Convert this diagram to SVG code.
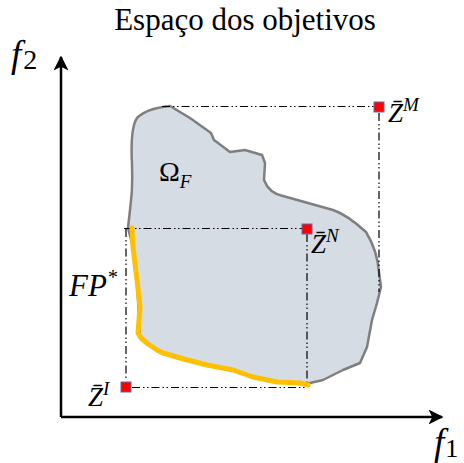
<svg xmlns="http://www.w3.org/2000/svg" width="464" height="463" viewBox="0 0 464 463">
<defs>
<style>
.ax{stroke:#000;stroke-width:2.5;fill:none}
.dd{stroke:#000;stroke-width:1.2;fill:none;stroke-dasharray:8 3 1.5 2.5 1.5 3}
.pt{fill:#ff0000;stroke:#5a6ea8;stroke-width:1}
.m{font-family:"Liberation Serif",serif;font-style:italic;fill:#000}
.t{font-family:"Liberation Serif",serif;fill:#000}
</style>
<marker id="ah" viewBox="0 0 10 10" refX="9" refY="5" markerWidth="6" markerHeight="6" markerUnits="strokeWidth" orient="auto">
<path d="M0,0 L10,5 L0,10 L2.5,5 Z" fill="#000"/>
</marker>
</defs>
<rect width="464" height="463" fill="#fff"/>
<text class="t" x="245" y="30" font-size="31" text-anchor="middle">Espaço dos objetivos</text>
<g id="axes">
<path class="ax" d="M61,417 L61,57" marker-end="url(#ah)"/>
<path class="ax" d="M61,417 L442,417" marker-end="url(#ah)"/>
<text class="m" x="11" y="67" font-size="37">f<tspan font-style="normal" font-size="28" dx="2" dy="2">2</tspan></text>
<text class="m" x="434" y="455" font-size="37">f<tspan font-style="normal" font-size="26" dx="1" dy="2">1</tspan></text>
</g>
<g id="regiao">
<path d="M128,228 C131,200 133,190 132,165 C131,145 132,125 137,118 C145,110 160,107 170,106 L190,118 L211,133 L214,140 L230,152 L245,150 L262,155 L265,163 L264,180 C267,188 273,194 283,196 L333,210 C345,214 355,222 366,232 C374,245 378,260 379,272 L381,287 L377,303 L372,320 L367,347 L360,363 L343,370 L323,380 L310,383 L300,384 L277,382 L253,377 L233,370 L207,365 L180,358 L163,353 L148,344 L140,338 L139,320 L137,280 L133,247 Z" fill="#d6dce4" stroke="#7f7f7f" stroke-width="2.5" stroke-linejoin="round"/>
<text class="m" x="159" y="181" font-size="28"><tspan font-style="normal">Ω</tspan><tspan font-size="19" dy="7">F</tspan></text>
</g>
<g id="connectors">
<path class="dd" d="M162,106.5 L374,106.5"/>
<path class="dd" d="M379,113 L379,292"/>
<path class="dd" d="M124,228.5 L302,228.5"/>
<path class="dd" d="M126,229 L126,380"/>
<path class="dd" d="M307,234 L307,387"/>
<path class="dd" d="M132,387.5 L307,387.5"/>
</g>
<g id="frente-pareto">
<path d="M132,228 L133,247 L137,280 L140,307 L139,320 L138,333 L141,338 L148,344 L157,350 L163,353 L180,358 L207,365 L233,370 L253,377 L277,382 L300,383 L308,385" fill="none" stroke="#ffc000" stroke-width="5" stroke-linejoin="round" stroke-linecap="round"/>
<text class="m" x="69" y="296" font-size="31">FP<tspan font-size="20" dy="-12">*</tspan></text>
</g>
<g id="ZM">
<rect class="pt" x="374" y="102" width="10" height="10"/>
<text class="m" x="388" y="122" font-size="27">Z̄<tspan font-size="19" dy="-11">M</tspan></text>
</g>
<g id="ZN">
<rect class="pt" x="302" y="224" width="10" height="10"/>
<text class="m" x="311" y="253" font-size="27">Z̄<tspan font-size="19" dy="-11">N</tspan></text>
</g>
<g id="ZI">
<rect class="pt" x="121" y="382" width="10" height="10"/>
<text class="m" x="88" y="406" font-size="27">Z̄<tspan font-size="19" dy="-11">I</tspan></text>
</g>
</svg>
